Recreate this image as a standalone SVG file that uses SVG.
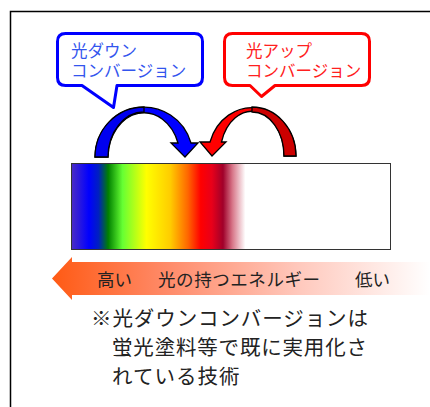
<svg xmlns="http://www.w3.org/2000/svg" width="430" height="407" viewBox="0 0 430 407">
<defs>
<style>
.t{font-family:"Liberation Sans","Noto Sans CJK JP",sans-serif}
.cb{fill:#fff;stroke-width:3;stroke-linejoin:round}
.arc{stroke:#000;stroke-width:1.3;stroke-linejoin:miter}
</style>
<linearGradient id="spec" x1="0" y1="0" x2="1" y2="0">
<stop offset="0" stop-color="#4B2CC4"/>
<stop offset="0.055" stop-color="#0000FF"/>
<stop offset="0.085" stop-color="#0020C0"/>
<stop offset="0.115" stop-color="#008000"/>
<stop offset="0.16" stop-color="#66FF33"/>
<stop offset="0.235" stop-color="#FFFF00"/>
<stop offset="0.31" stop-color="#FFCC00"/>
<stop offset="0.365" stop-color="#FF6600"/>
<stop offset="0.405" stop-color="#FF0000"/>
<stop offset="0.44" stop-color="#E8001A"/>
<stop offset="0.475" stop-color="#A0002A"/>
<stop offset="0.505" stop-color="#D8788A"/>
<stop offset="0.545" stop-color="#FFFFFF"/>
<stop offset="1" stop-color="#FFFFFF"/>
</linearGradient>
<linearGradient id="en" gradientUnits="userSpaceOnUse" x1="52" y1="0" x2="430" y2="0">
<stop offset="0" stop-color="#FF5A14"/>
<stop offset="0.3" stop-color="#FF8A68"/>
<stop offset="0.65" stop-color="#FFC8BC"/>
<stop offset="1" stop-color="#FFFFFF"/>
</linearGradient>
</defs>
<rect width="430" height="407" fill="#fff"/>
<path d="M10.5,407 L10.5,11.5 L430,11.5" fill="none" stroke="#000" stroke-width="1.5"/>

<g id="connectors">
<g id="down-arrow">
<path class="arc" fill="#0000FF" d="M95,157 A49,50 0 0 1 191,143 L198,143 L185,157 L171,143 L178,143 A36,45 0 0 0 108,157 Z"/>
<path class="arc" fill="#0000F0" d="M95,157 A49,50 0 0 1 144,107 L144,112 A36,45 0 0 0 108,157 Z"/>
</g>
<g id="up-arrow">
<path class="arc" fill="#FF0000" d="M296,156 A44,49 0 0 0 210,142 L200,142 L212,156 L226,142 L221.5,142 A32,44 0 0 1 284,156 Z"/>
<path class="arc" fill="#CC0000" d="M252,107 A44,49 0 0 1 296,156 L284,156 A32,44 0 0 0 252,112 Z"/>
</g>
</g>

<g id="callout-down">
<path class="cb" stroke="#0000FF" d="M65.5,33.5 H194.5 Q202.5,33.5 202.5,41.5 V77.5 Q202.5,85.5 194.5,85.5 H117 L113.5,107.5 L82,85.5 H65.5 Q57.5,85.5 57.5,77.5 V41.5 Q57.5,33.5 65.5,33.5 Z"/>
<text class="t" font-size="16.5" fill="#3355EE"><tspan x="71" y="57">光ダウン</tspan><tspan x="71" y="77">コンバージョン</tspan></text>
</g>

<g id="callout-up">
<path class="cb" stroke="#FF0000" d="M232.5,33.5 H361.5 Q369.5,33.5 369.5,41.5 V77.5 Q369.5,85.5 361.5,85.5 H275 L261.5,96.5 L250,85.5 H232.5 Q224.5,85.5 224.5,77.5 V41.5 Q224.5,33.5 232.5,33.5 Z"/>
<text class="t" font-size="16.5" fill="#FF2020"><tspan x="246" y="57">光アップ</tspan><tspan x="246" y="77">コンバージョン</tspan></text>
</g>

<g id="spectrum">
<rect x="71.5" y="163.5" width="319" height="86" fill="url(#spec)" stroke="#333" stroke-width="1"/>
</g>

<g id="energy-arrow">
<path d="M52,278.5 L72,257 L72,262 L430,262 L430,295 L72,295 L72,300 Z" fill="url(#en)"/>
<text class="t" x="97" y="286" font-size="17.5" fill="#222">高い</text>
<text class="t" x="158" y="286" font-size="17.5" fill="#222" textLength="162" lengthAdjust="spacing">光の持つエネルギー</text>
<text class="t" x="355" y="286" font-size="17.5" fill="#222">低い</text>
</g>

<g id="note">
<text class="t" font-size="20.5" fill="#222"><tspan x="91" y="326" textLength="277" lengthAdjust="spacing">※光ダウンコンバージョンは</tspan><tspan x="112" y="355" textLength="255" lengthAdjust="spacing">蛍光塗料等で既に実用化さ</tspan><tspan x="112" y="384" textLength="127.5" lengthAdjust="spacing">れている技術</tspan></text>
</g>
</svg>
